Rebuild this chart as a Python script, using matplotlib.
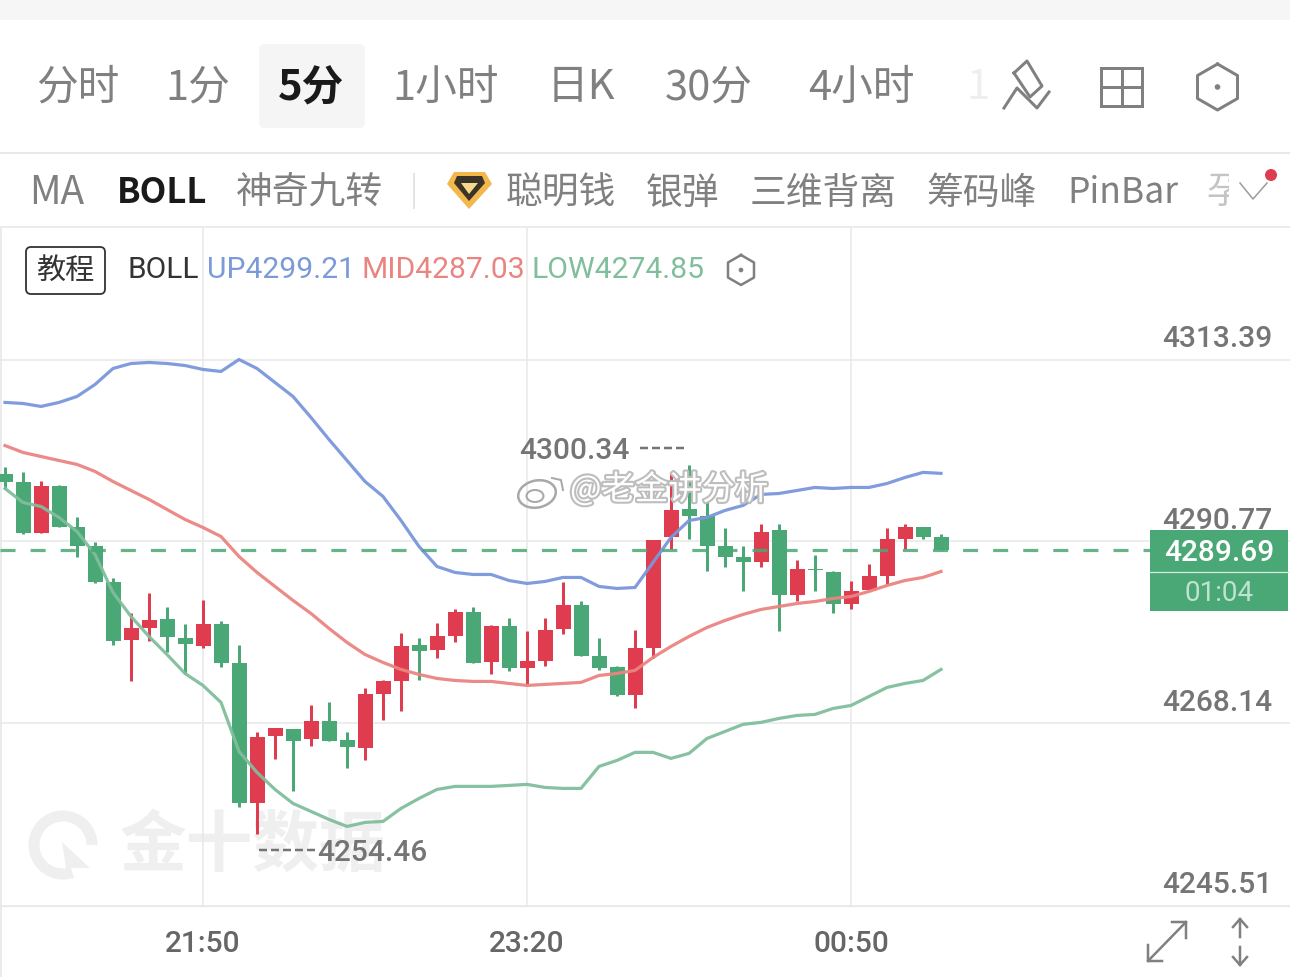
import matplotlib
matplotlib.use('Agg')
import matplotlib.pyplot as plt
import matplotlib.patheffects as pe
from matplotlib.patches import FancyBboxPatch, Rectangle, Circle, Polygon, Ellipse

plt.rcParams['font.family'] = ['Noto Sans CJK SC', 'DejaVu Sans']

# candles, 5 minute bars
opens = [4299.11, 4298.11, 4291.77, 4297.61, 4292.51, 4290.15, 4285.68, 4278.47, 4279.96, 4281.08, 4278.71,
         4277.72, 4280.46, 4275.60, 4258.20, 4266.53, 4267.40, 4266.16, 4268.40, 4266.04, 4265.04, 4271.75,
         4273.37, 4277.85, 4277.22, 4279.08, 4281.95, 4275.73, 4280.21, 4274.98, 4275.85, 4279.83, 4282.82,
         4276.47, 4275.11, 4271.63, 4277.47, 4291.27, 4294.75, 4294.00, 4290.15, 4288.78, 4288.28, 4292.14,
         4284.06, 4287.41, 4286.92, 4282.94, 4284.68, 4286.42, 4291.14, 4292.63, 4291.27]
closes = [4298.11, 4291.77, 4297.61, 4292.63, 4290.27, 4285.68, 4278.34, 4279.96, 4280.95, 4278.84, 4277.97,
          4280.46, 4275.60, 4258.20, 4266.41, 4267.53, 4265.91, 4268.40, 4265.91, 4265.17, 4271.75, 4273.37,
          4277.72, 4277.10, 4279.08, 4281.95, 4275.60, 4280.21, 4274.98, 4275.85, 4279.71, 4282.82, 4276.47,
          4274.98, 4271.63, 4277.47, 4290.90, 4294.63, 4293.88, 4290.27, 4288.78, 4288.28, 4292.01, 4284.06,
          4287.29, 4287.17, 4282.94, 4284.56, 4286.42, 4291.14, 4292.63, 4291.39, 4289.69]
highs = [4299.98, 4299.36, 4298.23, 4297.74, 4293.76, 4290.65, 4286.17, 4281.82, 4284.31, 4282.57, 4280.46,
         4283.44, 4280.83, 4277.85, 4267.03, 4267.53, 4267.40, 4270.38, 4270.76, 4267.03, 4272.50, 4273.49,
         4279.33, 4278.71, 4280.58, 4282.32, 4282.57, 4280.33, 4281.20, 4279.58, 4281.20, 4285.68, 4283.31,
         4278.71, 4275.35, 4279.71, 4290.90, 4299.24, 4300.34, 4296.00, 4292.39, 4290.15, 4292.89, 4292.89,
         4288.41, 4289.03, 4287.04, 4285.80, 4287.91, 4292.39, 4292.89, 4292.63, 4291.64]
lows = [4297.24, 4291.64, 4291.77, 4292.51, 4288.90, 4285.55, 4277.85, 4273.37, 4278.34, 4276.97, 4274.24,
        4277.47, 4275.11, 4257.71, 4254.46, 4263.67, 4259.69, 4265.29, 4265.91, 4262.55, 4263.55, 4268.52,
        4269.64, 4273.49, 4276.23, 4278.22, 4275.60, 4274.24, 4274.61, 4272.87, 4275.35, 4279.21, 4276.47,
        4274.74, 4271.50, 4270.01, 4276.23, 4289.78, 4291.14, 4287.04, 4287.54, 4284.56, 4287.66, 4279.58,
        4283.31, 4284.56, 4281.82, 4282.32, 4284.68, 4285.43, 4289.78, 4291.02, 4289.69]

# bollinger bands
boll_up = [4308.06, 4307.93, 4307.56, 4308.06, 4308.80, 4310.29, 4312.28, 4312.90, 4313.03, 4312.90, 4312.65,
           4312.16, 4311.91, 4313.40, 4312.28, 4310.54, 4308.80, 4306.19, 4303.45, 4300.84, 4298.23, 4296.37,
           4293.38, 4290.15, 4287.66, 4286.92, 4286.67, 4286.67, 4285.92, 4285.55, 4285.80, 4286.30, 4286.30,
           4285.18, 4284.93, 4285.05, 4288.16, 4291.27, 4293.38, 4293.76, 4294.63, 4295.25, 4296.62, 4296.74,
           4297.11, 4297.49, 4297.36, 4297.49, 4297.49, 4297.98, 4298.73, 4299.36, 4299.24]
boll_mid = [4302.70, 4301.84, 4301.34, 4300.84, 4300.35, 4299.48, 4298.23, 4297.11, 4296.00, 4294.75, 4293.51,
            4292.51, 4291.39, 4288.90, 4286.92, 4285.18, 4283.44, 4281.82, 4279.96, 4278.22, 4276.72, 4275.73,
            4274.86, 4274.24, 4273.74, 4273.49, 4273.37, 4273.37, 4273.12, 4272.87, 4273.00, 4273.12, 4273.25,
            4274.11, 4274.36, 4274.74, 4276.35, 4277.72, 4278.96, 4280.08, 4280.95, 4281.70, 4282.32, 4282.69,
            4283.06, 4283.31, 4283.68, 4283.93, 4284.56, 4285.30, 4285.92, 4286.30, 4287.04]
boll_low = [4297.36, 4295.62, 4295.12, 4293.76, 4292.01, 4289.15, 4284.43, 4281.45, 4278.96, 4276.72, 4274.36,
            4272.87, 4270.76, 4264.67, 4262.06, 4259.94, 4258.20, 4257.21, 4256.21, 4255.34, 4255.84, 4255.96,
            4257.58, 4258.82, 4259.94, 4260.32, 4260.32, 4260.32, 4260.44, 4260.57, 4260.19, 4260.07, 4260.07,
            4262.80, 4263.55, 4264.55, 4264.55, 4263.80, 4264.42, 4266.28, 4267.15, 4268.03, 4268.28, 4268.77,
            4269.14, 4269.27, 4270.01, 4270.38, 4271.50, 4272.62, 4273.12, 4273.49, 4274.86]

price_ticks = [4313.39, 4290.77, 4268.14, 4245.51]
time_idx = [11, 29, 47]
time_labels = ['21:50', '23:20', '00:50']
last_price = 4289.69

tabs = ['分时', '1分', '5分', '1小时', '日K', '30分', '4小时']
tab_x = [36, 165, 278, 392, 547, 665, 808]
tools = ['MA', 'BOLL', '神奇九转', '聪明钱', '银弹', '三维背离', '筹码峰', 'PinBar']
tool_x = [29, 117, 236, 506, 646, 750, 926, 1067]
tool_size = [28, 25, 26.5, 26.5, 26.5, 26.5, 26.5, 25.5]

GREEN = '#4aa776'
RED = '#e03c50'
GREY = '#808080'
NUM = '#757575'
GRID = '#e8e8e8'
DIGITS = ['Roboto', 'Noto Sans CJK SC']
PT = 0.72  # one pixel in points

fig = plt.figure(figsize=(12.9, 9.78), dpi=100, facecolor='white')

# page furniture under the chart
bg = fig.add_axes([0, 0, 1, 1], zorder=0)
bg.set_xlim(0, 1290)
bg.set_ylim(977, -1)
bg.axis('off')
bg.add_patch(Rectangle((0, 0), 1290, 20, color='#f6f6f6', lw=0))
bg.add_patch(FancyBboxPatch((262, 47), 100, 78, boxstyle='round,pad=3,rounding_size=6', fc='#f5f5f5', ec='none'))
bg.plot([0, 1290], [153, 153], color='#e8e8e8', lw=2 * PT)
bg.plot([0, 1290], [227, 227], color='#ebebeb', lw=2 * PT)
bg.plot([1, 1], [227, 978], color='#ebebeb', lw=2 * PT)

for t, x in zip(tabs, tab_x):
    on = t == '5分'
    bg.text(x, 87, t, fontsize=30, color='#1a1a1a' if on else GREY, va='center', ha='left',
            fontweight='bold' if on else 'normal', family=['Noto Sans CJK SC'])
bg.text(966, 87, '1', fontsize=30, color='#eeeeee', va='center')

for t, x, s in zip(tools, tool_x, tool_size):
    on = t == 'BOLL'
    bg.text(x, 192, t, fontsize=s, color='#1a1a1a' if on else GREY, va='center', ha='left',
            fontweight='bold' if on else 'normal')
bg.text(1206, 192, '孕', fontsize=26.5, color='#c4c4c4', va='center')
bg.add_patch(Rectangle((1229, 170), 61, 46, color='white', lw=0, zorder=3))
bg.plot([414, 414], [174, 208], color='#e4e4e4', lw=2 * PT)

# toolbar icons
bg.plot([1014, 1027, 1042, 1030, 1014], [73, 61, 86, 97, 73], color=GREY, lw=3 * PT)
bg.plot([1004, 1017, 1037, 1049], [108, 88, 108, 92], color=GREY, lw=3 * PT)
bg.add_patch(Rectangle((1101, 68), 41, 38, fc='none', ec=GREY, lw=3 * PT))
bg.plot([1121.5, 1121.5], [68, 106], color=GREY, lw=3 * PT)
bg.plot([1101, 1142], [87, 87], color=GREY, lw=3 * PT)


def hexagon(ax, cx, cy, rx, ry, lw):
    xs = [cx, cx + rx, cx + rx, cx, cx - rx, cx - rx, cx]
    ys = [cy - ry, cy - ry / 2, cy + ry / 2, cy + ry, cy + ry / 2, cy - ry / 2, cy - ry]
    ax.plot(xs, ys, color=GREY, lw=lw)
    ax.add_patch(Circle((cx, cy), lw * 1.3, color=GREY, lw=0))


hexagon(bg, 1217.5, 87, 20, 23, 3 * PT)
hexagon(bg, 741, 270, 13, 15, 2.5 * PT)

# diamond badge
bg.add_patch(Polygon([(454, 172), (485, 172), (492, 184), (469, 209), (447, 184)], fc='#f2b84b', ec='none'))
bg.add_patch(Polygon([(457, 176), (482, 176), (485, 183), (469, 201), (454, 183)], fc='#3a3328', ec='none'))
bg.add_patch(Polygon([(461, 183), (478, 183), (469, 194)], fc='#f6d98a', ec='none'))
bg.plot([1240, 1253, 1267], [183, 199, 183], color='#9a9a9a', lw=1.5 * PT, zorder=4)
bg.add_patch(Circle((1271, 175), 6, color=RED, lw=0, zorder=4))

# legend line
bg.add_patch(FancyBboxPatch((29, 250), 73, 41, boxstyle='round,pad=3,rounding_size=5', fc='white', ec='#333333', lw=1.3))
bg.text(65, 270, '教程', fontsize=21, color='#333333', ha='center', va='center')
bg.text(128, 269, 'BOLL', fontsize=21.5, color='#333333', va='center', family=['Roboto'])
bg.text(207, 269, 'UP4299.21', fontsize=21.7, color='#7c9ad8', va='center', family=['Roboto'])
bg.text(362, 269, 'MID4287.03', fontsize=21.7, color='#ea8480', va='center', family=['Roboto'])
bg.text(532, 269, 'LOW4274.85', fontsize=21.7, color='#80be9c', va='center', family=['Roboto'])

# watermark of the chart vendor
bg.add_patch(Circle((63, 845), 29, fc='none', ec='#efefef', lw=11 * PT))
bg.add_patch(Polygon([(63, 845), (100, 845), (100, 880), (75, 880)], fc='white', ec='none'))
bg.add_patch(Polygon([(62, 842), (90, 868), (66, 868)], fc='#efefef', ec='none'))
bg.text(120, 845, '金十数据', fontsize=48, color='#efefef', va='center', fontweight='bold')

# bottom right icons
for xs, ys in [([1148, 1186], [961, 922]), ([1148, 1148, 1162], [945, 961, 961]), ([1172, 1186, 1186], [922, 922, 938]),
               ([1240, 1240], [919, 937]), ([1233, 1240, 1247], [927, 919, 927]),
               ([1240, 1240], [947, 965]), ([1233, 1240, 1247], [957, 965, 957])]:
    bg.plot(xs, ys, color=GREY, lw=2.5 * PT)

# chart area, 18 px per candle with candle 0 at x=5
ax = fig.add_axes([0, (978 - 906.5) / 978, 1, (906 - 228) / 978], zorder=1)
ax.patch.set_alpha(0)
ax.set_xlim(-5 / 18, 1285 / 18)
ax.set_ylim(4245.51, 4329.81)
for s in ax.spines.values():
    s.set_visible(False)
ax.spines['bottom'].set_visible(True)
ax.spines['bottom'].set_color(GRID)
ax.set_axisbelow(True)
ax.grid(color=GRID, lw=1.5 * PT)
ax.set_yticks(price_ticks)
ax.set_xticks(time_idx)
ax.set_xticklabels(time_labels, fontsize=21.5, color='#666666', family=DIGITS, fontweight='medium')
ax.tick_params(length=0, labelleft=False, pad=17)

idx = list(range(len(opens)))
colors = [RED if c > o else GREEN for o, c in zip(opens, closes)]
ax.vlines(idx, lows, highs, colors=colors, lw=3 * PT, zorder=3)
ax.bar(idx, [abs(c - o) for o, c in zip(opens, closes)], bottom=[min(o, c) for o, c in zip(opens, closes)],
       width=15 / 18, color=colors, lw=0, zorder=3)

ax.plot(idx, boll_up, color='#7a97db', lw=3.2 * PT, alpha=0.95, zorder=4)
ax.plot(idx, boll_mid, color='#ea8480', lw=3.2 * PT, alpha=0.95, zorder=4)
ax.plot(idx, boll_low, color='#80be9c', lw=3.2 * PT, alpha=0.95, zorder=4)
ax.axhline(last_price, color=GREEN, lw=3.2 * PT, alpha=0.85, dashes=(4.7, 4.7), zorder=5)

for p in price_ticks:
    ax.annotate(f'{p:.2f}', xy=(1, p), xycoords=('axes fraction', 'data'), xytext=(-13, 15.3),
                textcoords='offset points', ha='right', va='center', fontsize=21.5, color=NUM,
                family=DIGITS, fontweight='medium')

# extreme labels with their leader dashes
ax.annotate(f'{max(highs):.2f}', xy=(38, max(highs)), xytext=(-122, 10.5), textcoords='offset points',
            fontsize=21.5, color=NUM, family=DIGITS, fontweight='medium', va='center', ha='left')
ax.annotate(f'{min(lows):.2f}', xy=(14, min(lows)), xytext=(43, -13.5), textcoords='offset points',
            fontsize=21.5, color=NUM, family=DIGITS, fontweight='medium', va='center', ha='left')
ax.plot([35.3, 37.8], [4300.34 + 2.1] * 2, color=NUM, lw=2.5 * PT, dashes=(3.2, 1.6))
ax.plot([14.1, 17.2], [4254.46 - 2.1] * 2, color=NUM, lw=2.5 * PT, dashes=(3.2, 1.6))

# things sitting on top of the chart
top = fig.add_axes([0, 0, 1, 1], zorder=2)
top.set_xlim(0, 1290)
top.set_ylim(977, -1)
top.axis('off')
top.patch.set_alpha(0)

top.add_patch(Rectangle((1150, 530), 138, 81, color=GREEN, lw=0))
top.plot([1150, 1288], [572, 572], color='#d5eadf', lw=1.3 * PT)
top.text(1219, 552.5, f'{last_price:.2f}', fontsize=21.5, color='white', ha='center', va='center',
         family=DIGITS, fontweight='medium')
top.text(1219, 592.5, '01:04', fontsize=20, color='#bfe3d0', ha='center', va='center', family=DIGITS)

# weibo watermark
halo = [pe.withStroke(linewidth=3, foreground='#bdbdbd')]
top.text(570, 490, '@老金讲分析', fontsize=24, color='white', va='center', path_effects=halo)
top.add_patch(Ellipse((537, 494), 38, 27, angle=-12, fc='none', ec='#a8a8a8', lw=2.5 * PT))
top.add_patch(Ellipse((535, 496), 17, 12, fc='none', ec='#a8a8a8', lw=2 * PT))
top.plot([552, 561, 563], [478, 480, 490], color='#a8a8a8', lw=2 * PT)

fig.savefig('out.png', dpi=100)
